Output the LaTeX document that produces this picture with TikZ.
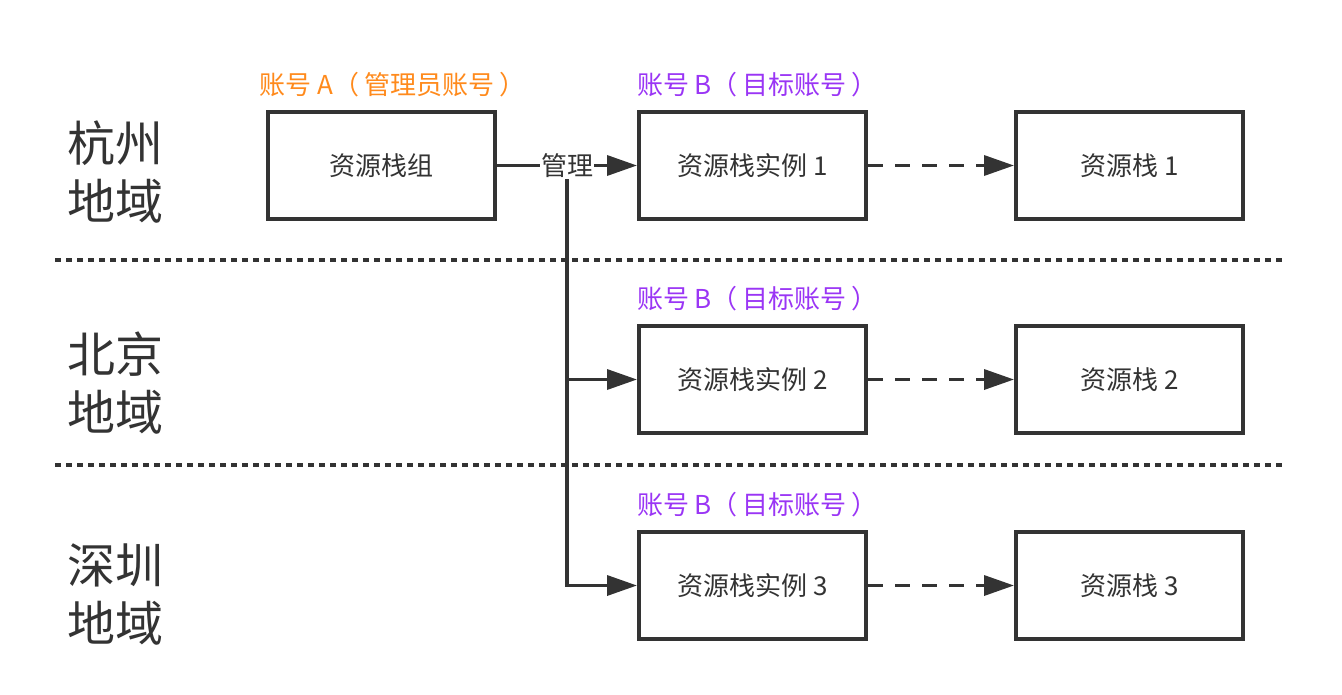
\documentclass[tikz,border=0pt]{standalone}
\usepackage{fontspec}
\setmainfont{Noto Sans CJK SC}
\usetikzlibrary{positioning, arrows.meta, calc}
\definecolor{ink}{HTML}{333333}
\definecolor{adminorange}{HTML}{FF8A1C}
\definecolor{targetpurple}{HTML}{9A35F5}
\tikzset{
x=1pt, y=-1pt, % one unit per pixel of the layout
>={Triangle[length=30pt,width=20pt]}, % filled arrow heads
node distance=140pt, % gap between boxes in a row
stackbox/.style={draw=ink, line width=4pt, minimum width=227pt, minimum height=107pt, text=ink, font=\fontsize{26}{30}\selectfont},
acct/.style={font=\fontsize{26}{30}\selectfont, inner sep=0pt},
region/.style={text=ink, align=center, font=\fontsize{48}{58}\selectfont},
link/.style={draw=ink, line width=3.5pt, ->},
sepline/.style={draw=ink, line width=3.5pt, dash pattern=on 6pt off 5pt},
}
\newcommand{\pspace}{\hspace{5pt}}
\begin{document}
\begin{tikzpicture}
\useasboundingbox (0,0) rectangle (1342,694);
% rows of boxes
\node[stackbox] (grp) at (381.5,165.5) {资源栈组};
\node[stackbox, right=of grp] (inst1) {资源栈实例 1};
\node[stackbox, right=146pt of inst1] (stk1) {资源栈 1};
\node[stackbox, below=103pt of inst1] (inst2) {资源栈实例 2};
\node[stackbox, right=146pt of inst2] (stk2) {资源栈 2};
\node[stackbox, below=95pt of inst2] (inst3) {资源栈实例 3};
\node[stackbox, right=146pt of inst3] (stk3) {资源栈 3};
% account labels
\node[acct, text=adminorange, above=13pt of grp, xshift=11pt] (acctA) {账号 A（\pspace 管理员账号\pspace ）};
\node[acct, text=targetpurple, above=13pt of inst1, xshift=5pt] (acctB1) {账号 B（\pspace 目标账号\pspace ）};
\node[acct, text=targetpurple, above=13pt of inst2, xshift=5pt] (acctB2) {账号 B（\pspace 目标账号\pspace ）};
\node[acct, text=targetpurple, above=13pt of inst3, xshift=5pt] (acctB3) {账号 B（\pspace 目标账号\pspace ）};
% regions
\node[region] (hz) at (115,172) {杭州\\地域};
\node[region] (bj) at (115,383) {北京\\地域};
\node[region] (sz) at (115,594) {深圳\\地域};
\coordinate (sepL1) at (55,260);
\coordinate (sepR1) at (1285,260);
\coordinate (sepL2) at (55,465);
\coordinate (sepR2) at (1285,465);
\draw[sepline] (sepL1) -- (sepR1);
\draw[sepline] (sepL2) -- (sepR2);
% management links
\coordinate (mgmt) at ($(grp.east)!0.5!(inst1.west)$);
\draw[link] (mgmt) |- (inst2.west);
\draw[link] (mgmt) |- (inst3.west);
\draw[link] (grp) -- node[fill=white, text=ink, font=\fontsize{26}{30}\selectfont, inner sep=1pt] (mgmtlbl) {管理} (inst1);
\draw[link, dash pattern=on 15pt off 12pt] (inst1) -- (stk1);
\draw[link, dash pattern=on 15pt off 12pt] (inst2) -- (stk2);
\draw[link, dash pattern=on 15pt off 12pt] (inst3) -- (stk3);
\end{tikzpicture}
\end{document}
